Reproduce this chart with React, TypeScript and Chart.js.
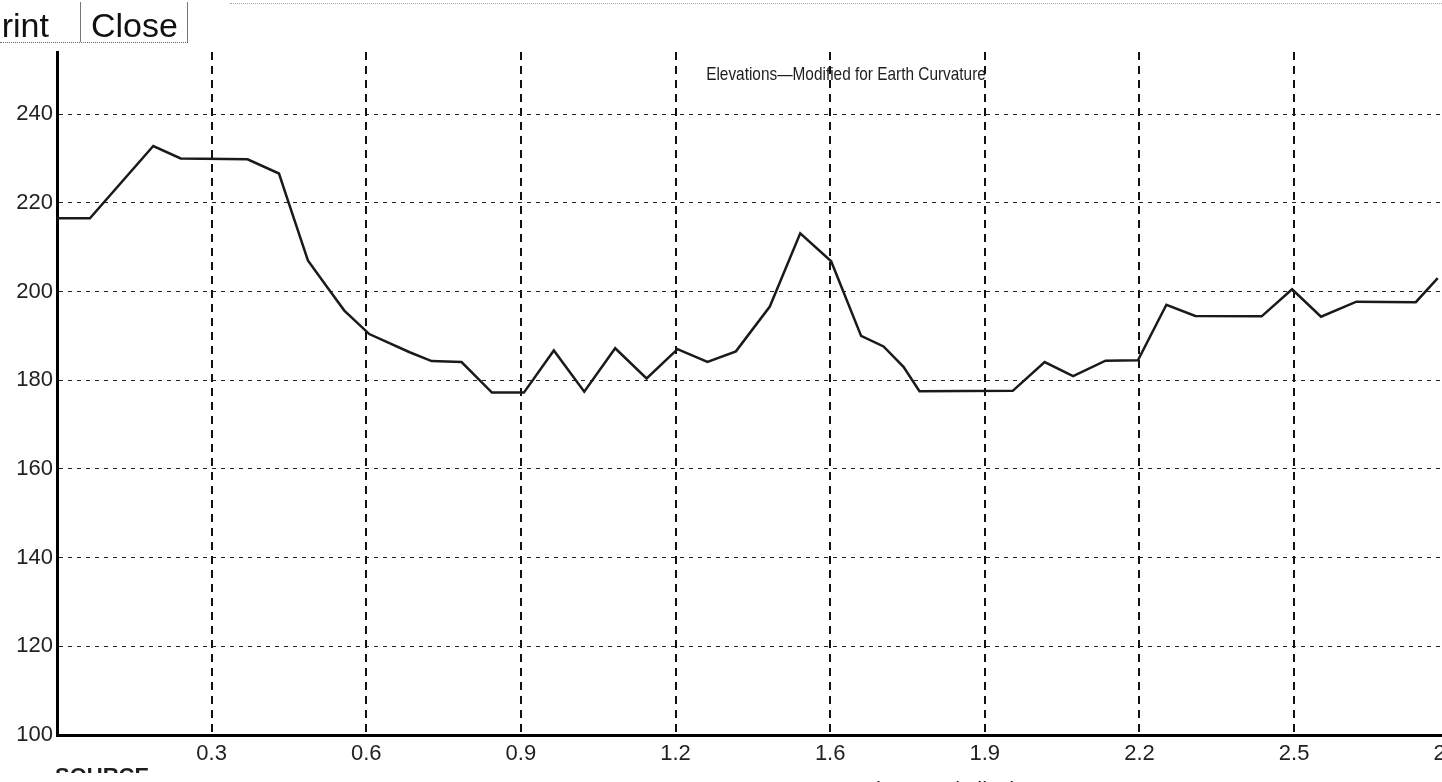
import React, { useEffect, useRef } from "react";
import { Chart, registerables } from "chart.js";

Chart.register(...registerables);

// Distance along the path (miles) and elevation (modified for earth curvature)
const distances = [
  0, 0.066, 0.193, 0.248, 0.382, 0.445, 0.465, 0.503, 0.544, 0.576,
  0.626, 0.707, 0.751, 0.811, 0.872, 0.936, 0.996, 1.057, 1.119, 1.182,
  1.244, 1.304, 1.361, 1.429, 1.49, 1.552, 1.612, 1.657, 1.697, 1.729,
  1.916, 1.98, 2.037, 2.102, 2.167, 2.224, 2.282, 2.415, 2.476, 2.534,
  2.605, 2.724, 2.768,
];
const elevations = [
  216.5, 216.5, 232.8, 230, 229.8, 226.6, 219.8, 207, 200.6, 195.7,
  190.4, 186.3, 184.3, 184.1, 177.2, 177.2, 186.7, 177.4, 187.2, 180.4,
  187.0, 184.1, 186.5, 196.6, 213.1, 206.8, 190.0, 187.6, 183, 177.5,
  177.6, 184.1, 180.9, 184.4, 184.5, 197.0, 194.5, 194.4, 200.5, 194.3,
  197.7, 197.6, 203,
];

const xTickValues = [0.31, 0.62, 0.93, 1.24, 1.55, 1.86, 2.17, 2.48, 2.79];
const xTickLabels = ["0.3", "0.6", "0.9", "1.2", "1.6", "1.9", "2.2", "2.5", "2.8"];
const yTickValues = [100, 120, 140, 160, 180, 200, 220, 240];

const titleText = "Elevations\u2014Modified for Earth Curvature";
const sourceLabel = "SOURCE";
const xAxisTitle = "Distance (miles)";

const FONT = "'Liberation Sans', Arial, sans-serif";

const overlayPlugin = {
  id: "overlayTexts",
  afterDraw(chart: any) {
    const { ctx, chartArea } = chart;
    ctx.save();
    ctx.fillStyle = "#1e1e1e";
    // title, drawn horizontally condensed like the printed original
    ctx.save();
    ctx.translate(chartArea.left + 789, chartArea.top + 28);
    ctx.scale(0.81, 1);
    ctx.font = `19px ${FONT}`;
    ctx.textAlign = "center";
    ctx.textBaseline = "alphabetic";
    ctx.fillText(titleText, 0, 0);
    ctx.restore();

    // "SOURCE" under the origin: only its top sliver survives on the print
    ctx.save();
    ctx.beginPath();
    ctx.rect(0, chartArea.bottom + 30, chart.width, 8);
    ctx.clip();
    ctx.font = `bold 22px ${FONT}`;
    ctx.textAlign = "left";
    ctx.textBaseline = "alphabetic";
    ctx.fillText(sourceLabel, chartArea.left - 2, chartArea.bottom + 48);
    ctx.restore();

    // axis title, cut by the page edge
    ctx.font = `22px ${FONT}`;
    ctx.textAlign = "left";
    ctx.textBaseline = "alphabetic";
    ctx.fillText(xAxisTitle, chartArea.left + 803, chartArea.bottom + 62);
    ctx.restore();
  },
};

export default function App() {
  const canvasRef = useRef<HTMLCanvasElement | null>(null);

  useEffect(() => {
    if (!canvasRef.current) return;
    const points = distances.map((d, i) => ({ x: d, y: elevations[i] }));
    const chart = new Chart(canvasRef.current, {
      type: "line",
      data: {
        datasets: [
          {
            data: points,
            borderColor: "#1a1a1a",
            borderWidth: 2.5,
            pointRadius: 0,
            tension: 0,
            fill: false,
          },
        ],
      },
      options: {
        animation: false,
        responsive: false,
        maintainAspectRatio: false,
        layout: { padding: { left: 0, right: 0, top: 52, bottom: 33 } },
        plugins: {
          legend: { display: false },
          title: { display: false },
          tooltip: { enabled: false },
        },
        scales: {
          x: {
            type: "linear",
            min: 0,
            max: 2.82,
            afterBuildTicks: (scale: any) => {
              scale.ticks = xTickValues.map((v) => ({ value: v }));
            },
            afterFit: (scale: any) => {
              scale.height = 32;
            },
            ticks: {
              autoSkip: false,
              maxRotation: 0,
              padding: 6,
              color: "#222",
              font: { family: FONT, size: 22 },
              callback: (_v: any, i: number) => xTickLabels[i],
            },
            grid: { color: "#111", lineWidth: 2, drawTicks: false },
            border: { color: "#000", width: 3, dash: [8, 6] },
          },
          y: {
            type: "linear",
            min: 100,
            max: 254,
            afterBuildTicks: (scale: any) => {
              scale.ticks = yTickValues.map((v) => ({ value: v }));
            },
            afterFit: (scale: any) => {
              scale.width = 57;
            },
            ticks: {
              padding: 4,
              color: "#222",
              font: { family: FONT, size: 22 },
              callback: (v: any) => String(v),
            },
            grid: { color: "#222", lineWidth: 1, drawTicks: false },
            border: { color: "#000", width: 3, dash: [4, 5] },
          },
        },
      },
      plugins: [overlayPlugin],
    });
    return () => chart.destroy();
  }, []);

  const btnText: React.CSSProperties = {
    position: "absolute",
    top: 8,
    fontFamily: FONT,
    fontSize: 34,
    lineHeight: "34px",
    color: "#111",
    whiteSpace: "nowrap",
  };

  return (
    <div
      style={{
        position: "fixed",
        left: 0,
        top: 0,
        width: 1442,
        height: 782,
        overflow: "hidden",
        background: "#fff",
      }}
    >
      <canvas
        ref={canvasRef}
        width={1470}
        height={800}
        style={{ position: "absolute", left: 0, top: 0, width: 1470, height: 800 }}
      />
      <span style={{ ...btnText, left: -21 }}>Print</span>
      <span style={{ ...btnText, left: 91 }}>Close</span>
      <div style={{ position: "absolute", left: 80, top: 2, width: 1, height: 40, background: "#777" }} />
      <div style={{ position: "absolute", left: 187, top: 2, width: 1, height: 40, background: "#777" }} />
      <div style={{ position: "absolute", left: 0, top: 42, width: 188, height: 0, borderTop: "1px dotted #666" }} />
      <div style={{ position: "absolute", left: 230, top: 3, right: 0, height: 0, borderTop: "1px dotted #aaa" }} />
    </div>
  );
}
